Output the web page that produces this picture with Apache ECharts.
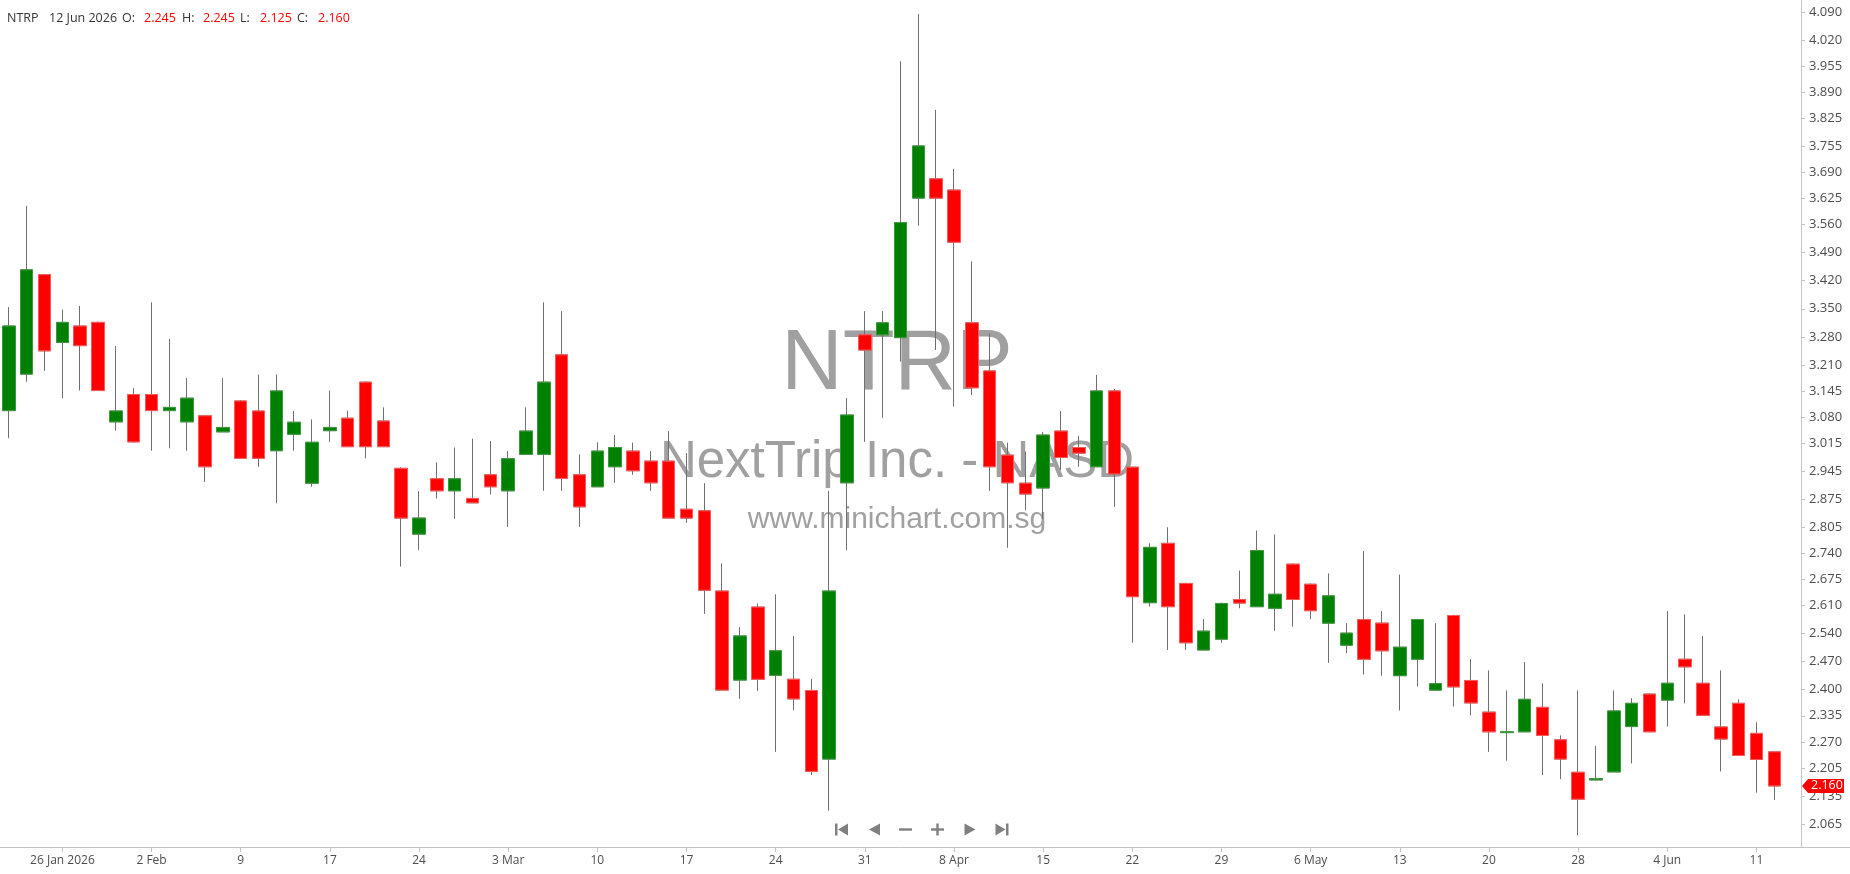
<!DOCTYPE html>
<html><head><meta charset="utf-8">
<script src="https://cdn.jsdelivr.net/npm/echarts@6.0.0/dist/echarts.min.js"></script>
<style>html,body{margin:0;padding:0;background:#fff;overflow:hidden}#c{width:1850px;height:874px}</style>
</head><body><div id="c"></div>
<script>
const symbol = 'NTRP';
const companyName = 'NextTrip Inc. - NASD';
const siteName = 'www.minichart.com.sg';
const monthNames = ['Jan','Feb','Mar','Apr','May','Jun','Jul','Aug','Sep','Oct','Nov','Dec'];

const dates = [
'2026-01-21','2026-01-22','2026-01-23','2026-01-26','2026-01-27','2026-01-28','2026-01-29','2026-01-30',
'2026-02-02','2026-02-03','2026-02-04','2026-02-05','2026-02-06','2026-02-09','2026-02-10','2026-02-11','2026-02-12','2026-02-13',
'2026-02-17','2026-02-18','2026-02-19','2026-02-20','2026-02-23','2026-02-24','2026-02-25','2026-02-26','2026-02-27',
'2026-03-02','2026-03-03','2026-03-04','2026-03-05','2026-03-06','2026-03-09','2026-03-10','2026-03-11','2026-03-12','2026-03-13',
'2026-03-16','2026-03-17','2026-03-18','2026-03-19','2026-03-20','2026-03-23','2026-03-24','2026-03-25','2026-03-26','2026-03-27',
'2026-03-30','2026-03-31','2026-04-01','2026-04-02','2026-04-06','2026-04-07','2026-04-08','2026-04-09','2026-04-10',
'2026-04-13','2026-04-14','2026-04-15','2026-04-16','2026-04-17','2026-04-20','2026-04-21','2026-04-22','2026-04-23','2026-04-24',
'2026-04-27','2026-04-28','2026-04-29','2026-04-30','2026-05-01','2026-05-04','2026-05-05','2026-05-06','2026-05-07','2026-05-08',
'2026-05-11','2026-05-12','2026-05-13','2026-05-14','2026-05-15','2026-05-18','2026-05-19','2026-05-20','2026-05-21','2026-05-22',
'2026-05-26','2026-05-27','2026-05-28','2026-05-29','2026-06-01','2026-06-02','2026-06-03','2026-06-04','2026-06-05',
'2026-06-08','2026-06-09','2026-06-10','2026-06-11','2026-06-12'
];

const opens = [
3.096,3.187,3.435,3.266,3.307,3.316,3.068,3.136,3.136,3.096,
3.068,3.083,3.043,3.120,3.095,2.996,3.037,2.915,3.046,3.077,
3.167,3.070,2.952,2.788,2.926,2.896,2.877,2.936,2.896,2.987,
2.987,3.235,2.936,2.906,2.956,2.995,2.970,2.970,2.850,2.846,
2.646,2.424,2.606,2.436,2.426,2.398,2.227,2.916,3.285,3.285,
3.278,3.626,3.674,3.646,3.315,3.195,2.985,2.915,2.903,3.045,
3.004,2.956,3.145,2.955,2.617,2.765,2.665,2.499,2.526,2.625,
2.607,2.603,2.713,2.663,2.566,2.511,2.575,2.566,2.435,2.476,
2.399,2.585,2.423,2.344,2.293,2.295,2.356,2.275,2.194,2.175,
2.195,2.308,2.389,2.374,2.476,2.416,2.307,2.366,2.291,2.245];

const highs = [
3.354,3.606,3.437,3.348,3.357,3.318,3.257,3.152,3.366,3.275,
3.177,3.085,3.177,3.122,3.186,3.186,3.095,3.074,3.146,3.096,
3.169,3.104,2.955,2.895,2.967,3.004,3.026,3.020,2.995,3.104,
3.366,3.344,2.987,3.017,3.035,3.016,2.995,3.045,2.990,2.915,
2.715,2.556,2.615,2.638,2.534,2.427,2.896,3.127,3.344,3.344,
3.967,4.085,3.846,3.699,3.468,3.289,3.016,2.994,3.043,3.095,
3.033,3.185,3.150,2.955,2.765,2.805,2.667,2.576,2.617,2.697,
2.797,2.787,2.715,2.665,2.690,2.566,2.746,2.596,2.687,2.576,
2.566,2.587,2.476,2.448,2.398,2.469,2.416,2.286,2.398,2.260,
2.398,2.379,2.391,2.596,2.588,2.534,2.448,2.376,2.319,2.245];

const lows = [
3.027,3.168,3.195,3.127,3.146,3.146,3.046,3.016,2.996,3.002,
2.996,2.918,3.043,2.977,2.956,2.865,2.996,2.906,3.018,3.006,
2.977,3.006,2.707,2.748,2.877,2.826,2.866,2.887,2.806,2.987,
2.896,2.896,2.806,2.906,2.916,2.936,2.896,2.828,2.816,2.589,
2.399,2.377,2.397,2.245,2.349,2.187,2.098,2.748,3.018,3.078,
3.218,3.557,3.247,3.106,3.135,2.896,2.754,2.848,2.826,2.948,
2.956,2.956,2.856,2.517,2.607,2.499,2.499,2.499,2.517,2.603,
2.607,2.547,2.557,2.576,2.467,2.491,2.438,2.435,2.348,2.408,
2.398,2.358,2.336,2.245,2.223,2.295,2.187,2.177,2.037,2.175,
2.195,2.216,2.294,2.308,2.366,2.336,2.196,2.236,2.143,2.125];

const closes = [
3.307,3.447,3.245,3.316,3.258,3.146,3.095,3.018,3.096,3.104,
3.127,2.956,3.054,2.977,2.977,3.145,3.067,3.017,3.054,3.006,
3.006,3.006,2.828,2.828,2.896,2.926,2.866,2.906,2.976,3.045,
3.167,2.927,2.856,2.995,3.004,2.946,2.916,2.828,2.828,2.648,
2.399,2.534,2.426,2.497,2.377,2.196,2.646,3.085,3.247,3.315,
3.565,3.756,3.626,3.516,3.153,2.956,2.916,2.888,3.035,2.979,
2.990,3.145,2.938,2.632,2.755,2.607,2.517,2.546,2.615,2.616,
2.747,2.638,2.625,2.597,2.634,2.541,2.476,2.497,2.506,2.575,
2.415,2.407,2.367,2.295,2.295,2.376,2.286,2.227,2.127,2.178,
2.347,2.366,2.295,2.416,2.457,2.336,2.277,2.236,2.226,2.160];

const yTickLabels = ['2.065','2.135','2.205','2.270','2.335','2.400','2.470','2.540','2.610','2.675',
'2.740','2.805','2.875','2.945','3.015','3.080','3.145','3.210','3.280','3.350','3.420','3.490',
'3.560','3.625','3.690','3.755','3.825','3.890','3.955','4.020','4.090'];
const yMin = 2.0077, yMax = 4.120;
const firstXLabelIndex = 3, xLabelStep = 5;

const FONT = 'Open Sans';
const LABEL_COLOR = '#4d4d4d';
const AXIS_COLOR = '#c4c4c4';
const UP = '#008000', DOWN = '#ff0000';

function fmtDate(s, withYear) {
  const p = s.split('-').map(Number);
  return p[2] + ' ' + monthNames[p[1]-1] + (withYear ? ' ' + p[0] : '');
}
function showTick(index) {
  return index >= firstXLabelIndex && (index - firstXLabelIndex) % xLabelStep === 0 && index < dates.length;
}
function xLabel(value, index) {
  if (!value) return '';
  if (index === firstXLabelIndex) return fmtDate(value, true);
  const m = Number(value.split('-')[1]);
  const pm = Number(dates[index - xLabelStep].split('-')[1]);
  return pm !== m ? fmtDate(value, false) : String(Number(value.split('-')[2]));
}

const axisCats = dates.concat(['']);
const wickData = dates.map((d, i) => [opens[i], closes[i], lows[i], highs[i]]);
const bodyData = dates.map((d, i) => [opens[i], closes[i], Math.min(opens[i], closes[i]), Math.max(opens[i], closes[i])]);
const yTickValues = yTickLabels.map(Number);

const chart = echarts.init(document.getElementById('c'), null, {renderer: 'canvas'});
chart.setOption({
  animation: false,
  backgroundColor: '#ffffff',
  grid: {left: 0, right: 49, top: 0, bottom: 27, containLabel: false, outerBoundsMode: 'none'},
  xAxis: {
    type: 'category', data: axisCats, boundaryGap: true,
    axisLine: {show: true, lineStyle: {color: AXIS_COLOR, width: 1}},
    axisTick: {show: true, alignWithLabel: true, interval: showTick, length: 5, lineStyle: {color: AXIS_COLOR}},
    axisLabel: {interval: showTick, formatter: xLabel, color: LABEL_COLOR, fontFamily: FONT, fontSize: 12, margin: 8, hideOverlap: false},
    splitLine: {show: false}
  },
  yAxis: {
    type: 'value', position: 'right', min: yMin, max: yMax,
    axisLine: {show: true, lineStyle: {color: AXIS_COLOR, width: 1}},
    axisTick: {show: true, customValues: yTickValues, length: 4, lineStyle: {color: AXIS_COLOR}},
    axisLabel: {customValues: yTickValues, formatter: v => v.toFixed(3), color: LABEL_COLOR, fontFamily: FONT, fontSize: 13, margin: 8, showMinLabel: true, showMaxLabel: true},
    splitLine: {show: false}
  },
  series: [
    {
      type: 'candlestick', name: 'wick', data: wickData, barWidth: 13, z: 2,
      itemStyle: {color: '#ffffff', color0: '#ffffff', borderColor: '#6f6f6f', borderColor0: '#6f6f6f', borderWidth: 1},
      emphasis: {disabled: true}, silent: true
    },
    {
      type: 'candlestick', name: 'body', data: bodyData, barWidth: 13, z: 3,
      itemStyle: {color: UP, color0: DOWN, borderColor: '#3c9a3c', borderColor0: '#ff5a5a', borderWidth: 1},
      emphasis: {disabled: true}, silent: true
    }
  ]
});

const last = dates.length - 1;
const tagY = chart.convertToPixel({yAxisIndex: 0}, closes[last]);
const hdrY = 18;
const hdr = [
  [7, symbol, '#333'],
  [49, fmtDate(dates[last], true), '#333'],
  [122, 'O:', '#333'], [144, opens[last].toFixed(3), DOWN],
  [182, 'H:', '#333'], [203, highs[last].toFixed(3), DOWN],
  [240, 'L:', '#333'], [260, lows[last].toFixed(3), DOWN],
  [297, 'C:', '#333'], [318, closes[last].toFixed(3), DOWN]
];
const g = [];
hdr.forEach((h, k) => g.push({type: 'text', id: 'h' + k, x: h[0], y: hdrY, z: 50,
  style: {text: h[1], fill: h[2], font: '12.5px "' + FONT + '"', verticalAlign: 'middle', align: 'left'}}));

// watermark
g.push({type: 'text', id: 'wm1', x: 897, y: 366, z: 0,
  style: {text: symbol, fill: '#a0a0a0', font: '85px "Liberation Sans"', align: 'center', verticalAlign: 'middle'}});
g.push({type: 'text', id: 'wm2', x: 897, y: 463, z: 0,
  style: {text: companyName, fill: '#a0a0a0', font: '51px "Liberation Sans"', align: 'center', verticalAlign: 'middle'}});
g.push({type: 'text', id: 'wm3', x: 897, y: 520, z: 0,
  style: {text: siteName, fill: '#a0a0a0', font: '30px "Liberation Sans"', align: 'center', verticalAlign: 'middle'}});

// extension of the bottom axis line to the right edge
g.push({type: 'line', id: 'axext', z: 1, shape: {x1: 1801, y1: 847.5, x2: 1850, y2: 847.5}, style: {stroke: AXIS_COLOR, lineWidth: 1}});

// navigation icons
const NAV = '#808080';
const navTop = 823.5, navBot = 835.5, navMid = 829.5;
g.push({type: 'rect', id: 'n1a', z: 50, shape: {x: 835, y: navTop, width: 2.5, height: 12}, style: {fill: NAV}});
g.push({type: 'polygon', id: 'n1b', z: 50, shape: {points: [[848, navTop], [848, navBot], [838, navMid]]}, style: {fill: NAV}});
g.push({type: 'polygon', id: 'n2', z: 50, shape: {points: [[880, navTop], [880, navBot], [869, navMid]]}, style: {fill: NAV}});
g.push({type: 'rect', id: 'n3', z: 50, shape: {x: 899, y: 828.3, width: 13, height: 2.4}, style: {fill: NAV}});
g.push({type: 'rect', id: 'n4a', z: 50, shape: {x: 931, y: 828.3, width: 13, height: 2.4}, style: {fill: NAV}});
g.push({type: 'rect', id: 'n4b', z: 50, shape: {x: 936.3, y: navTop, width: 2.4, height: 12}, style: {fill: NAV}});
g.push({type: 'polygon', id: 'n5', z: 50, shape: {points: [[964.5, navTop], [964.5, navBot], [975.5, navMid]]}, style: {fill: NAV}});
g.push({type: 'polygon', id: 'n6a', z: 50, shape: {points: [[995.5, navTop], [995.5, navBot], [1005.5, navMid]]}, style: {fill: NAV}});
g.push({type: 'rect', id: 'n6b', z: 50, shape: {x: 1006, y: navTop, width: 2.5, height: 12}, style: {fill: NAV}});

// last price tag
g.push({type: 'polygon', id: 'tag', z: 100, shape: {points: [[1802, tagY], [1808, tagY - 7], [1844, tagY - 7], [1844, tagY + 7], [1808, tagY + 7]]}, style: {fill: DOWN}});
g.push({type: 'text', id: 'tagt', z: 101, x: 1811, y: tagY, style: {text: closes[last].toFixed(3), fill: '#ffffff', font: '12.5px "' + FONT + '"', align: 'left', verticalAlign: 'middle'}});

chart.setOption({graphic: g});
</script>
</body></html>
